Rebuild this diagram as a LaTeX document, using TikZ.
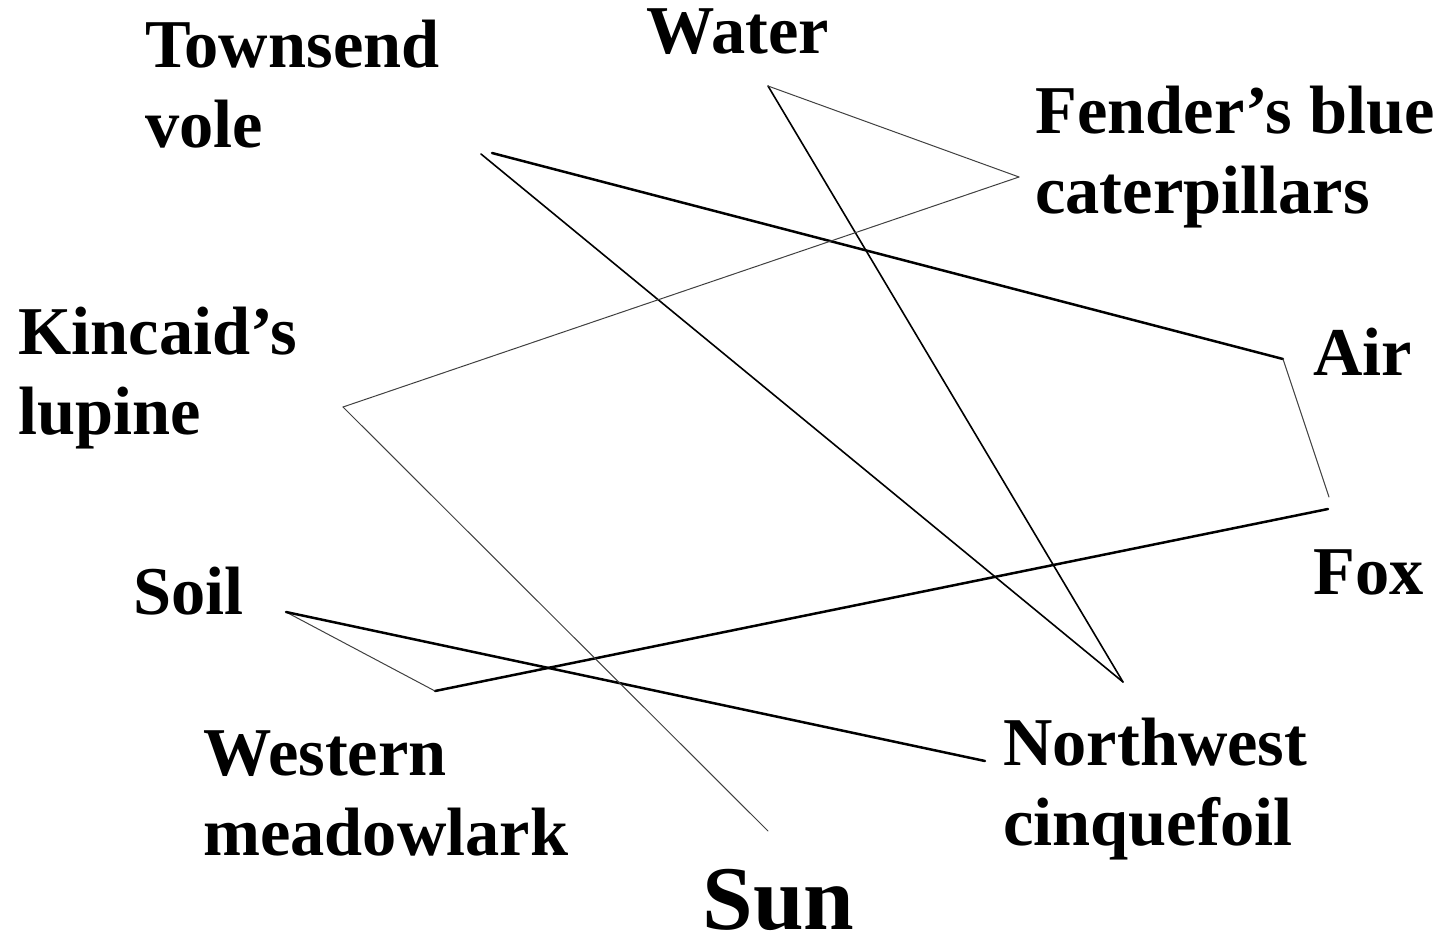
\documentclass[tikz,border=0pt]{standalone}
\usepackage{fontspec}
\setmainfont{Liberation Serif}
\newcommand{\twoline}[2]{\vtop{\baselineskip=40pt\lineskiplimit=-20pt\hbox{#1}\hbox{#2}}}
\begin{document}
\begin{tikzpicture}[x=0.5pt,y=-0.5pt,
  lab/.style={anchor=base west,inner sep=0pt,font=\fontsize{34.2pt}{40pt}\selectfont\bfseries},
  big/.style={anchor=base west,inner sep=0pt,font=\fontsize{45.5pt}{50pt}\selectfont\bfseries},
  thick link/.style={line width=1.25pt,line cap=round,line join=round},
  mid link/.style={line width=0.8pt,line cap=round,line join=round},
  thin link/.style={line width=0.5pt,draw=black!75,line cap=round,line join=round}]
\useasboundingbox (0,0) rectangle (1445,942);
% labels
\node[lab] (vole) at (145,67) {\twoline{Townsend}{vole}};
\node[lab] (water) at (646,53) {Water};
\node[lab] (fender) at (1035,133) {\twoline{Fender’s blue}{caterpillars}};
\node[lab] (lupine) at (18,354) {\twoline{Kincaid’s}{lupine}};
\node[lab] (air) at (1313,375) {Air};
\node[lab] (fox) at (1313,594) {Fox};
\node[lab] (soil) at (133,614) {Soil};
\node[lab] (lark) at (203,775) {\twoline{Western}{meadowlark}};
\node[lab] (cinq) at (1003,765) {\twoline{Northwest}{cinquefoil}};
\node[big] (sun) at (702,929) {\raisebox{0pt}[\height][0pt]{Sun}};
% vertices
\coordinate (v1) at (492,153);
\coordinate (v2) at (481,154);
\coordinate (a1) at (1283,359);
\coordinate (f1) at (1329,497);
\coordinate (f2) at (1328,509);
\coordinate (m1) at (435,691);
\coordinate (s1) at (286,612);
\coordinate (c1) at (985,761);
\coordinate (n1) at (1123,682);
\coordinate (w1) at (768,86);
\coordinate (b1) at (1019,177);
\coordinate (l1) at (343,407);
\coordinate (u1) at (768,831);
% links
\draw[thick link] (v1) -- (a1);
\draw[thin link] (a1) -- (f1);
\draw[thick link] (f2) -- (m1);
\draw[thin link] (m1) -- (s1);
\draw[thick link] (s1) -- (c1);
\draw[mid link] (v2) -- (n1);
\draw[mid link] (n1) -- (w1);
\draw[thin link] (w1) -- (b1);
\draw[thin link] (b1) -- (l1);
\draw[thin link] (l1) -- (u1);
\end{tikzpicture}
\end{document}
